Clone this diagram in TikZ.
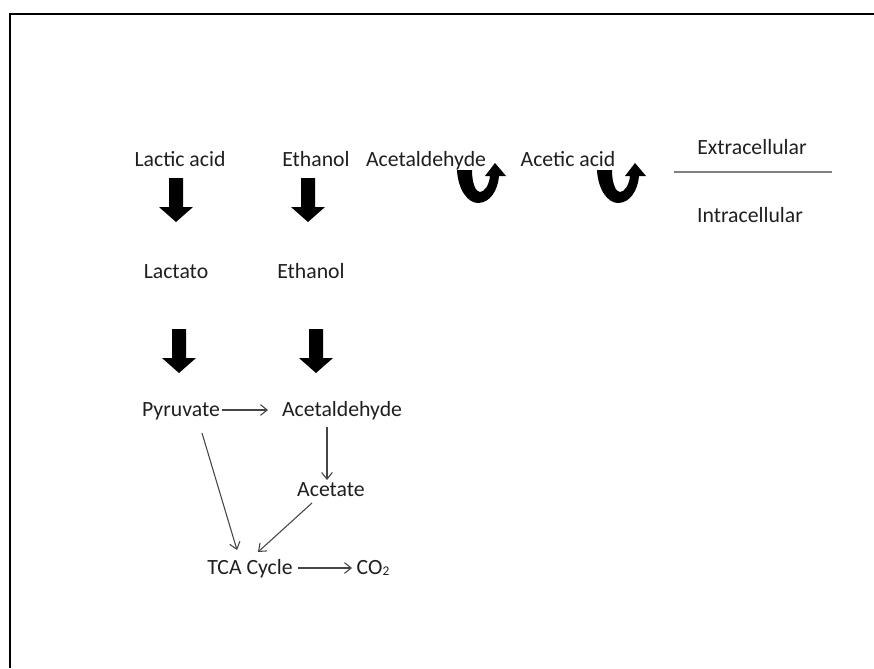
\documentclass[tikz,border=0pt]{standalone}
\usepackage{fontspec}
\setmainfont{Carlito}
\usetikzlibrary{arrows.meta,calc}
\definecolor{linegray}{rgb}{0.27,0.27,0.27}
\definecolor{membrane}{rgb}{0.5,0.5,0.5}
\definecolor{txt}{rgb}{0.12,0.12,0.12}
\tikzset{
  lbl/.style={inner sep=0pt, text=txt, text height=11.5pt, text depth=1.5pt, font=\fontsize{16.3}{19}\selectfont},
  conn/.style={draw=linegray, line width=0.8pt, -{Straight Barb[length=5pt,width=8pt]}},
  blockdown/.pic={\fill (-7,0) -- (7,0) -- (7,29) -- (17,29) -- (0,44) -- (-17,29) -- (-7,29) -- cycle;},
  uarrow/.pic={\fill (0,0) .. controls (1,20) and (11,33) .. (21,33)
      .. controls (33,33) and (41,20) .. (42,6) -- (49,6) -- (38,-7) -- (28,6) -- (33,6)
      .. controls (32,16) and (27,22) .. (23,22) .. controls (19,22) and (15,14) .. (15,0) -- cycle;}
}
\begin{document}
\begin{tikzpicture}[x=0.75pt,y=-0.75pt]
\useasboundingbox (0,0) rectangle (874,668);
\draw[line width=1.5pt] (874,14) -- (10,14) -- (10,668);

\node[lbl] (lactic) at (180,160) {Lactic acid};
\node[lbl] (eth1) at (316,160) {Ethanol};
\node[lbl] (ald1) at (426,160) {Acetaldehyde};
\node[lbl] (acetic) at (568,160) {Acetic acid};
\node[lbl] (extra) at (752,148) {Extracellular};
\node[lbl] (intra) at (750,216) {Intracellular};
\draw[membrane, line width=1.3pt] (674,172) -- (832,172);

\node[lbl] (lactato) at (176,272) {Lactato};
\node[lbl] (eth2) at (311,272) {Ethanol};

\node[lbl] (pyr) at (181,410) {Pyruvate};
\node[lbl] (ald) at (342,410) {Acetaldehyde};
\node[lbl] (acetate) at (331,490) {Acetate};
\node[lbl] (tca) at (250,568) {TCA Cycle};
\node[lbl] (co2) at (373,568) {CO\raisebox{-0.8pt}{\fontsize{10}{10}\selectfont 2}};

\pic at ($(lactic)+(-4,18)$) {blockdown};
\pic at ($(eth1)+(-8,18)$) {blockdown};
\pic at ($(lactato)+(3,57)$) {blockdown};
\pic at ($(eth2)+(5,57)$) {blockdown};

\pic at ($(ald1)+(31,10)$) {uarrow};
\pic at ($(acetic)+(29,10)$) {uarrow};

\draw[conn] ($(pyr)+(41,0)$) -- ($(ald)+(-74,0)$);
\draw[conn] ($(ald)+(-15,17)$) -- ($(acetate)+(-4,-10)$);
\draw[conn] ($(pyr)+(21,23)$) -- ($(tca)+(-13,-18)$);
\draw[conn] ($(acetate)+(-19,13)$) -- ($(tca)+(8,-16)$);
\draw[conn] ($(tca)+(48,0)$) -- ($(co2)+(-21,0)$);
\end{tikzpicture}
\end{document}
